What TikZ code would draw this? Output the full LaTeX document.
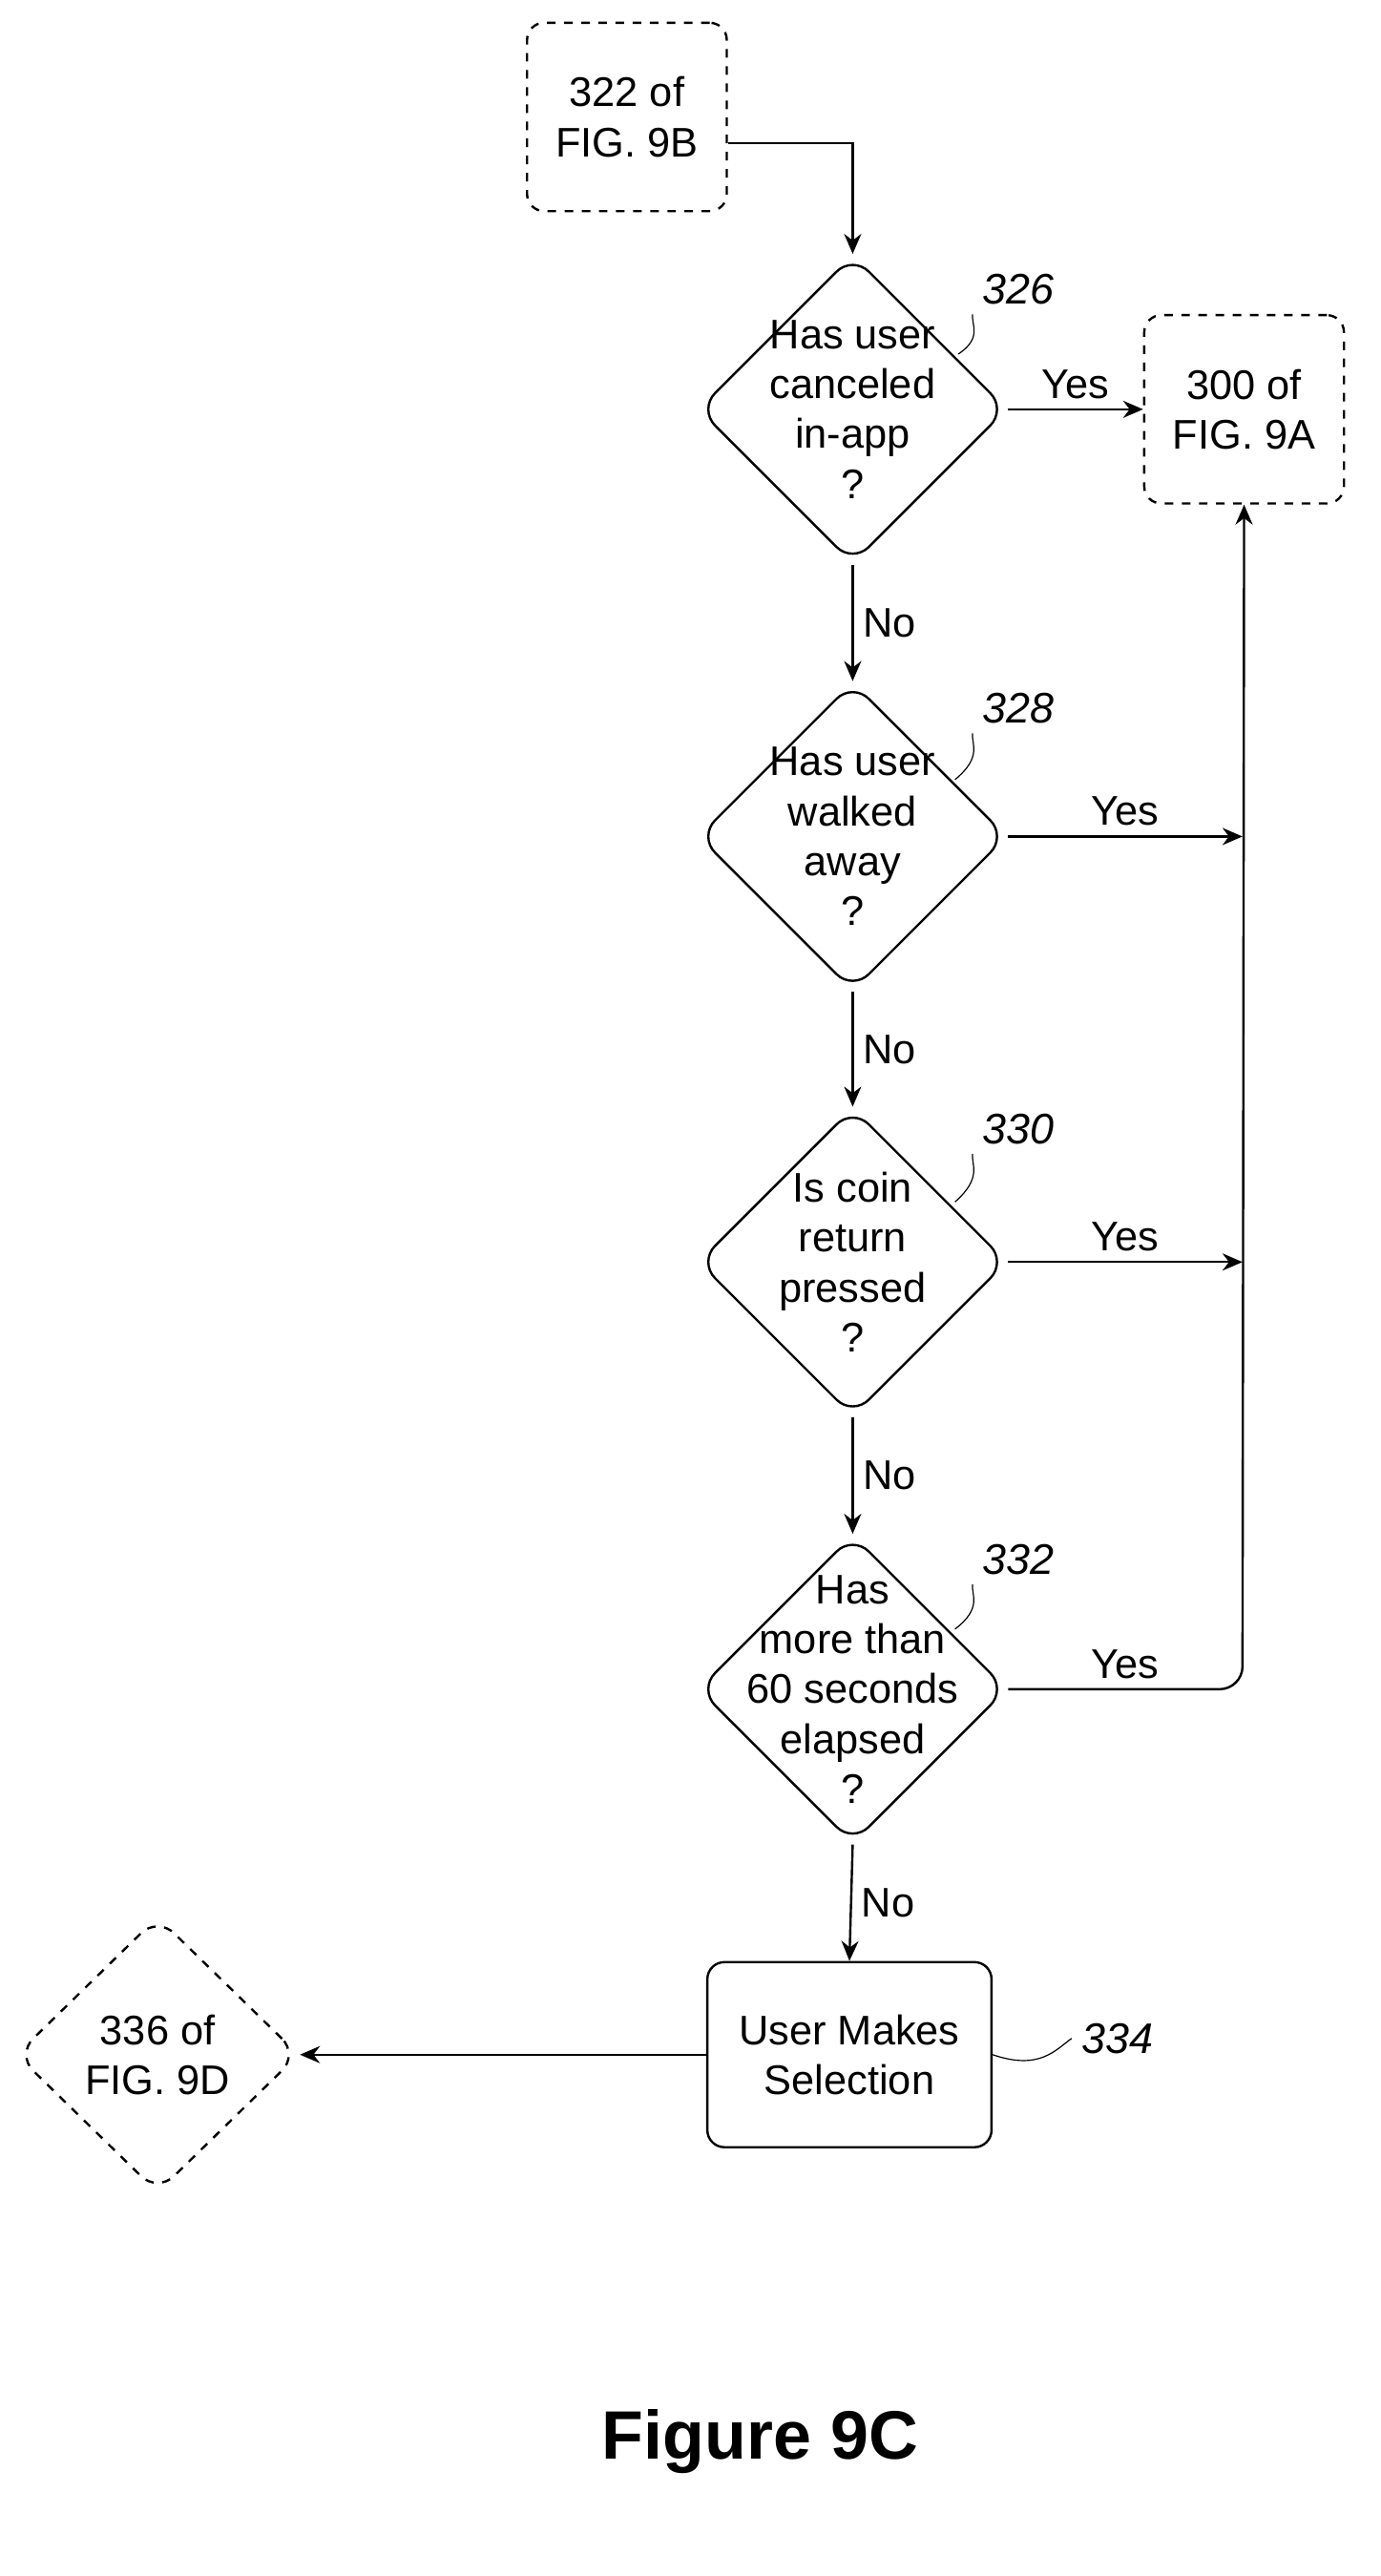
\documentclass[tikz,border=0pt]{standalone}
\usepackage{fontspec}
\setmainfont{Liberation Sans}
\usetikzlibrary{shapes.geometric,arrows.meta}
\begin{document}
\begin{tikzpicture}[x=0.02cm,y=-0.02cm,
    txt/.style={font=\fontsize{14.5}{17.5}\selectfont, align=center},
    dec/.style={diamond, draw, thick, rounded corners=8pt, minimum width=3.8cm, minimum height=3.8cm, inner sep=0pt},
    offpage/.style={rectangle, draw, thick, dashed, rounded corners=6pt, minimum width=2.46cm, minimum height=2.32cm},
    proc/.style={rectangle, draw, thick, rounded corners=6pt, minimum width=3.5cm, minimum height=2.28cm},
    ref/.style={font=\fontsize{15}{18}\selectfont\itshape},
    flow/.style={thick, -{Stealth[length=7pt,width=6pt]}}]
  \useasboundingbox (0,0) rectangle (850,1586);
  % off-page connectors
  \node[offpage, txt] (c322) at (386,72) {322 of\\FIG. 9B};
  \node[offpage, txt] (c300) at (766,252) {300 of\\FIG. 9A};
  \node[dec, dashed, minimum width=3.48cm, minimum height=3.4cm] (c336) at (97,1265) {};
  \node[txt] at (c336) {336 of\\FIG. 9D};
  % decisions
  \node[dec] (d326) at (525,252) {};
  \node[txt] at (d326) {Has user\\canceled\\in-app\\?};
  \node[dec] (d328) at (525,515) {};
  \node[txt] at (d328) {Has user\\walked\\away\\?};
  \node[dec] (d330) at (525,777) {};
  \node[txt] at (d330) {Is coin\\return\\pressed\\?};
  \node[dec] (d332) at (525,1040) {};
  \node[txt] at (d332) {Has\\more than\\60 seconds\\elapsed\\?};
  \node[proc, txt] (s334) at (523,1265) {User Makes\\Selection};
  % reference numerals
  \node[ref] (r326) at (627,178) {326};
  \node[ref] (r328) at (627,436) {328};
  \node[ref] (r330) at (627,695) {330};
  \node[ref] (r332) at (627,960) {332};
  \node[ref] (r334) at (688,1255) {334};
  \draw (r326.south west) .. controls (598,200) and (605,208) .. (590,218);
  \draw (r328.south west) .. controls (598,458) and (605,466) .. (588,480);
  \draw (r330.south west) .. controls (598,717) and (605,725) .. (588,740);
  \draw (r332.south west) .. controls (598,982) and (605,990) .. (588,1003);
  \draw (r334.west) .. controls (650,1262) and (640,1275) .. (s334.east);
  % connectors
  \coordinate (bus) at (765,1040);
  \draw[flow] (c322.east |- 0,88) -| (d326.north);
  \draw[flow] (d326.east) -- node[txt, above] {Yes} (c300.west);
  \draw[flow] (d326.south) -- node[txt, right] {No} (d328.north);
  \draw[flow] (d328.south) -- node[txt, right] {No} (d330.north);
  \draw[flow] (d330.south) -- node[txt, right] {No} (d332.north);
  \draw[flow] (d332.south) -- node[txt, right] {No} (s334.north);
  \draw[flow] (d328.east) -- node[txt, above] {Yes} (d328.east -| bus);
  \draw[flow] (d330.east) -- node[txt, above] {Yes} (d330.east -| bus);
  \draw[flow, rounded corners=8pt] (d332.east) -- node[txt, above] {Yes} (bus) -- (c300.south);
  \draw[flow] (s334.west) -- (c336.east);
  \node[font=\fontsize{24}{28}\selectfont\bfseries] (title) at (468,1503) {Figure 9C};
\end{tikzpicture}
\end{document}
